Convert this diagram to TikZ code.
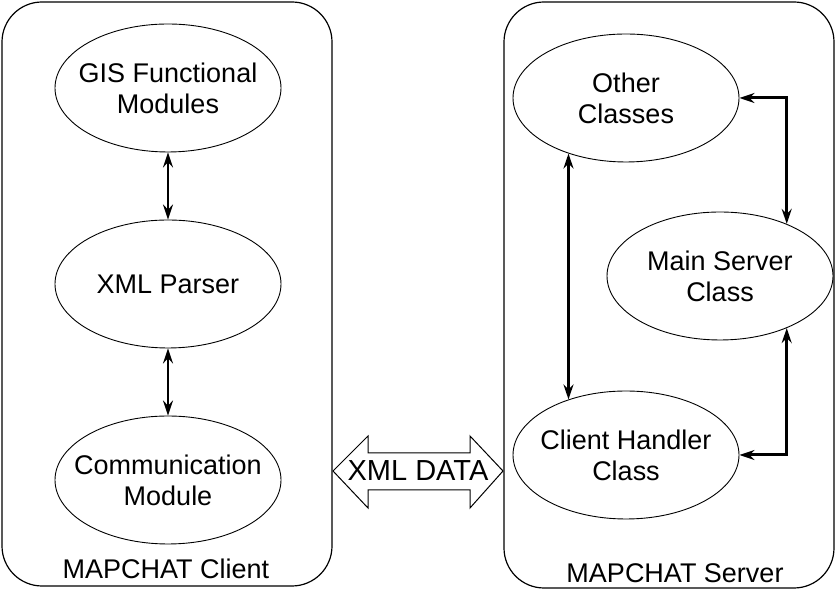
\documentclass[tikz,border=0pt]{standalone}
\usepackage{fontspec}
\setmainfont{Liberation Sans}
\usetikzlibrary{shapes.geometric,arrows.meta}
\begin{document}
\begin{tikzpicture}[x=1pt,y=1pt,
  container/.style={draw,line width=1.2pt,rounded corners=40pt},
  oval/.style={ellipse,draw,line width=0.9pt,minimum width=226pt,minimum height=128pt,inner sep=0pt,
    label={[lbl,align=center]center:#1}},
  lbl/.style={font=\fontsize{27}{31}\selectfont},
  tip/.style={{Stealth[length=15pt,width=10pt,inset=5pt]}-{Stealth[length=15pt,width=10pt,inset=5pt]}},
  link/.style={tip,line width=2pt},
  thick link/.style={tip,line width=3pt}]
\useasboundingbox (0,0) rectangle (838,596);
% containers
\draw[container] (2,10) rectangle (332,594);
\draw[container] (504,8) rectangle (834,594);
% client side
\node[oval={GIS Functional\\Modules}] (gis) at (168,508) {};
\node[oval={XML Parser}] (xml) at (168,312) {};
\node[oval={Communication\\Module}] (comm) at (168,116) {};
\node[lbl] (clientlbl) at (166,27) {MAPCHAT Client};
% server side
\node[oval={Other\\Classes}] (other) at (626,498) {};
\node[oval={Main Server\\Class}] (main) at (720,320) {};
\node[oval={Client Handler\\Class}] (client) at (626,141) {};
\node[lbl] (serverlbl) at (675,23) {MAPCHAT Server};
% connectors
\draw[link] (gis) -- (xml);
\draw[link] (xml) -- (comm);
\draw[thick link] (other.-136) -- (client.136);
\draw[thick link] (other.east) -| (main.38);
\draw[thick link] (main.-38) |- (client.east);
% XML DATA double arrow
\draw[line width=1pt,fill=white,line join=miter]
  (333,125) -- (368,160) -- (368,143) -- (470,143) -- (470,160) -- (503,125)
  -- (470,88) -- (470,106) -- (368,106) -- (368,88) -- cycle;
\node[font=\fontsize{29}{31}\selectfont] (xmldata) at (418,125) {XML DATA};
\end{tikzpicture}
\end{document}
